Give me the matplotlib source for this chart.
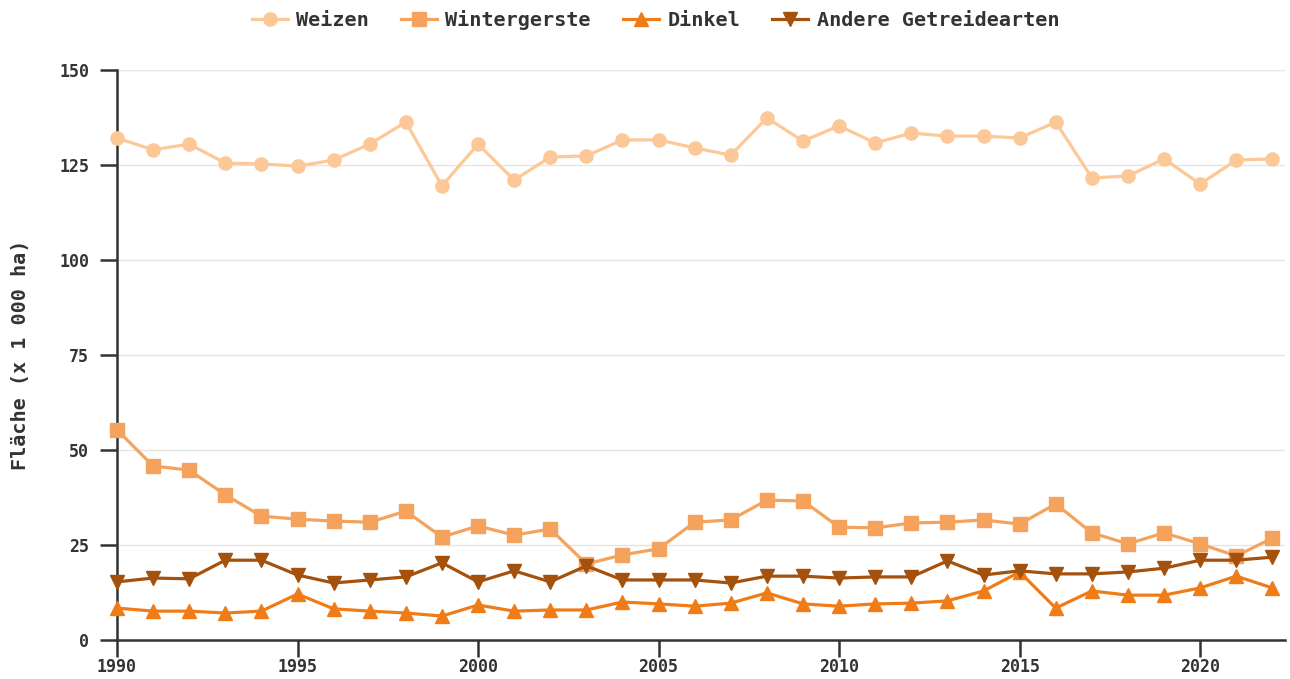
import matplotlib
matplotlib.use("Agg")
import matplotlib.pyplot as plt

years = list(range(1990, 2023))

weizen = [132.1, 129.0, 130.5, 125.5, 125.3, 124.7, 126.3, 130.5, 136.3, 119.5,
          130.5, 121.0, 127.1, 127.4, 131.6, 131.6, 129.5, 127.6, 137.4, 131.3,
          135.3, 130.8, 133.4, 132.6, 132.6, 132.1, 136.3, 121.6, 122.1, 126.6,
          120.0, 126.3, 126.6]
wintergerste = [55.3, 45.8, 44.7, 38.2, 32.6, 31.8, 31.3, 31.0, 33.9, 27.1,
                30.0, 27.6, 29.2, 20.0, 22.4, 24.0, 31.0, 31.6, 36.8, 36.6,
                29.7, 29.5, 30.8, 31.0, 31.6, 30.5, 35.8, 28.2, 25.3, 28.2,
                25.3, 22.1, 26.8]
dinkel = [8.4, 7.6, 7.6, 7.1, 7.6, 12.1, 8.2, 7.6, 7.1, 6.3,
          9.2, 7.6, 7.9, 7.9, 10.0, 9.5, 8.9, 9.7, 12.4, 9.5,
          8.9, 9.5, 9.7, 10.3, 12.9, 17.9, 8.4, 12.9, 11.8, 11.8,
          13.7, 16.8, 13.7]
andere = [15.3, 16.3, 16.1, 21.0, 21.0, 17.1, 15.0, 15.8, 16.6, 20.3,
          15.3, 18.2, 15.3, 19.5, 15.8, 15.8, 15.8, 15.0, 16.8, 16.8,
          16.3, 16.6, 16.6, 20.8, 17.1, 18.2, 17.4, 17.4, 17.9, 18.9,
          21.0, 21.0, 21.8]

series = [
    ("Weizen", weizen, "#fcc898", "o", 9.5),
    ("Wintergerste", wintergerste, "#f5a35c", "s", 10),
    ("Dinkel", dinkel, "#f07c18", "^", 10),
    ("Andere Getreidearten", andere, "#a3510c", "v", 10),
]

text_color = "#333333"
plt.rcParams["font.family"] = ["DejaVu Sans Mono"]
plt.rcParams["font.weight"] = "bold"

fig = plt.figure(figsize=(12.9, 6.79), dpi=100)
ax = fig.add_axes([117 / 1290, 39 / 679, 1168 / 1290, 570 / 679])

for name, vals, color, marker, ms in series:
    ax.plot(years, vals, color=color, marker=marker, markersize=ms, lw=2.3,
            label=name, clip_on=False, zorder=3)

ax.set_xlim(1990, 2022.35)
ax.set_ylim(0, 150)
ax.set_xticks(range(1990, 2021, 5))
ax.set_yticks(range(0, 151, 25))
ax.grid(axis="y", color="#e5e5e5", lw=1)
ax.set_axisbelow(True)

for side in ["top", "right"]:
    ax.spines[side].set_visible(False)
for side in ["left", "bottom"]:
    ax.spines[side].set_color(text_color)
    ax.spines[side].set_linewidth(1.8)

ax.tick_params(colors=text_color, labelsize=12, length=12, width=1.8)
ax.tick_params(axis="x", pad=1)
ax.tick_params(axis="y", pad=8)
for lbl in ax.get_xticklabels() + ax.get_yticklabels():
    lbl.set_fontweight("bold")

ax.set_ylabel("Fläche (x 1 000 ha)", fontsize=14.5, fontweight="bold",
              color=text_color, labelpad=21)

fig.legend(loc="upper center", bbox_to_anchor=(0.508, 1.012), ncol=4,
           frameon=False, handlelength=1.8, columnspacing=1.6,
           handletextpad=0.4, labelcolor=text_color,
           prop={"family": "DejaVu Sans Mono", "weight": "bold", "size": 14.5})

fig.savefig("out.png", dpi=100)
